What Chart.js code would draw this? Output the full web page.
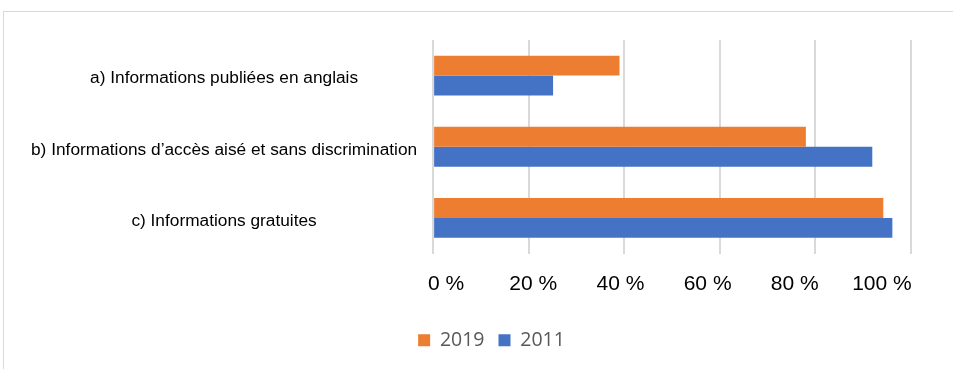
<!DOCTYPE html>
<html><head><meta charset="utf-8">
<script src="https://cdn.jsdelivr.net/npm/chart.js@4/dist/chart.umd.min.js"></script>
<style>
html,body{margin:0;padding:0;background:#fff;overflow:hidden;}
#frame{position:absolute;left:3px;top:11px;width:2000px;height:2000px;border:1px solid #d9d9d9;box-sizing:border-box;}
#c{position:absolute;left:0;top:0;}
</style></head>
<body>
<div id="frame"></div>
<canvas id="c" width="953" height="369"></canvas>
<script>
const categories = [
  "a) Informations publiées en anglais",
  "b) Informations d\u2019accès aisé et sans discrimination",
  "c) Informations gratuites"
];
const series2019 = [39, 78, 94.2];
const series2011 = [25.1, 91.9, 96.1];
const tickValues = [0, 20, 40, 60, 80, 100];
const tickLabels = ["0 %", "20 %", "40 %", "60 %", "80 %", "100 %"];

new Chart(document.getElementById('c'), {
  type: 'bar',
  data: {
    labels: categories,
    datasets: [
      {label: '2019', data: series2019, backgroundColor: '#ED7D31', borderWidth: 0},
      {label: '2011', data: series2011, backgroundColor: '#4472C4', borderWidth: 0}
    ]
  },
  options: {
    indexAxis: 'y',
    responsive: false,
    animation: false,
    devicePixelRatio: 1,
    layout: {padding: {left: 30, right: 0, top: 40, bottom: 9}},
    datasets: {bar: {barPercentage: 1, categoryPercentage: 0.56}},
    plugins: {
      tooltip: {enabled: false},
      legend: {
        position: 'bottom',
        labels: {
          boxWidth: 12, boxHeight: 12, padding: 14,
          color: '#595959',
          font: {family: 'Open Sans', size: 19.5}
        }
      }
    },
    scales: {
      x: {
        min: 0, max: 100,
        weight: 2,
        afterFit: s => { s.height = 0; s.paddingRight = 42; s.paddingLeft = 0; },
        ticks: {stepSize: 20, display: false},
        grid: {color: '#d9d9d9', lineWidth: 2, drawTicks: false},
        border: {display: false}
      },
      x2: {
        axis: 'x',
        position: 'bottom',
        weight: 1,
        min: -2.99, max: 106.67,
        afterBuildTicks: s => { s.ticks = tickValues.map(v => ({value: v})); },
        afterFit: s => { s.height = 63; s.paddingRight = 42; s.paddingLeft = 0; },
        ticks: {
          padding: 18,
          color: '#000',
          font: {family: 'Liberation Sans', size: 21},
          callback: (v) => tickLabels[tickValues.indexOf(v)]
        },
        grid: {display: false, drawTicks: false},
        border: {display: false}
      },
      y: {
        afterFit: s => { s.width = s.width - 15; },
        ticks: {
          crossAlign: 'center',
          padding: 16,
          labelOffset: 3,
          color: '#000',
          font: {family: 'Liberation Sans', size: 17.3}
        },
        grid: {display: false, drawTicks: false},
        border: {display: false}
      }
    }
  }
});
</script>
</body></html>
